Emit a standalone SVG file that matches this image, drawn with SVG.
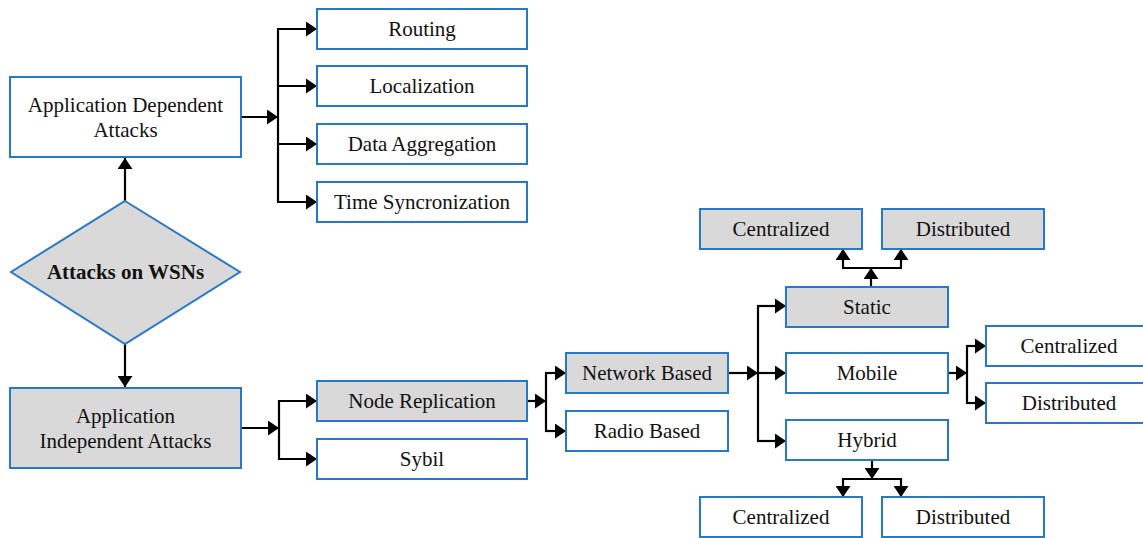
<svg xmlns="http://www.w3.org/2000/svg" width="1143" height="538" viewBox="0 0 1143 538">
<style>
.b{fill:#fff;stroke:#2878C8;stroke-width:2}
.g{fill:#D9D9D9;stroke:#2878C8;stroke-width:2}
text{font-family:"Liberation Serif","Times New Roman",serif;font-size:21px;fill:#111;text-anchor:middle}
.bold{font-weight:bold}
.c path{fill:none;stroke:#000;stroke-width:2.2}
.c path.a{marker-end:url(#ah)}
</style>
<defs>
<marker id="ah" markerUnits="userSpaceOnUse" markerWidth="11" markerHeight="15" refX="11" refY="7.5" orient="auto" viewBox="0 0 11 15">
<path d="M0,0 L11,7.5 L0,15 z" fill="#000"/>
</marker>
</defs>
<rect width="1143" height="538" fill="#fff"/>
<g class="c" id="connectors">
<path class="a" d="M241,117 H278"/>
<path d="M278,28 V203"/>
<path class="a" d="M277,29 H317"/>
<path class="a" d="M277,86 H317"/>
<path class="a" d="M277,144 H317"/>
<path class="a" d="M277,202 H317"/>
<path class="a" d="M125,201 V158"/>
<path class="a" d="M125,344 V387"/>
<path class="a" d="M241,428 H279"/>
<path d="M279,400 V460"/>
<path class="a" d="M278,401 H317"/>
<path class="a" d="M278,459 H317"/>
<path class="a" d="M527,401 H546"/>
<path d="M546,372 V432"/>
<path class="a" d="M545,373 H566"/>
<path class="a" d="M545,431 H566"/>
<path class="a" d="M728,373 H758"/>
<path class="a" d="M758,373 H786"/>
<path d="M758,305 V442"/>
<path class="a" d="M757,306 H786"/>
<path class="a" d="M757,441 H786"/>
<path class="a" d="M871,287 V268"/>
<path d="M842,268 H902"/>
<path class="a" d="M843,267 V249"/>
<path class="a" d="M901,267 V249"/>
<path class="a" d="M948,373 H967"/>
<path d="M967,345 V404"/>
<path class="a" d="M966,346 H986"/>
<path class="a" d="M966,403 H986"/>
<path class="a" d="M872,460 V479"/>
<path d="M842,479 H902"/>
<path class="a" d="M843,478 V497"/>
<path class="a" d="M901,478 V497"/>
</g>
<g id="appdep"><rect class="b" x="10" y="77" width="231" height="80"/><text x="125.5" y="112">Application Dependent</text><text x="125.5" y="137">Attacks</text></g>
<g id="routing"><rect class="b" x="317" y="9" width="210" height="40"/><text x="422" y="36">Routing</text></g>
<g id="localization"><rect class="b" x="317" y="66" width="210" height="40"/><text x="422" y="93">Localization</text></g>
<g id="dataagg"><rect class="b" x="317" y="124" width="210" height="40"/><text x="422" y="151">Data Aggregation</text></g>
<g id="timesync"><rect class="b" x="317" y="182" width="210" height="40"/><text x="422" y="209">Time Syncronization</text></g>
<g id="root"><polygon class="g" points="125,201 240,272 125,344 11,272"/><text class="bold" x="125.5" y="279">Attacks on WSNs</text></g>
<g id="appindep"><rect class="g" x="10" y="388" width="231" height="80"/><text x="125.5" y="423">Application</text><text x="125.5" y="448">Independent Attacks</text></g>
<g id="noderep"><rect class="g" x="317" y="381" width="210" height="40"/><text x="422" y="408">Node Replication</text></g>
<g id="sybil"><rect class="b" x="317" y="439" width="210" height="40"/><text x="422" y="466">Sybil</text></g>
<g id="network"><rect class="g" x="566" y="353" width="162" height="40"/><text x="647" y="380">Network Based</text></g>
<g id="radio"><rect class="b" x="566" y="411" width="162" height="40"/><text x="647" y="438">Radio Based</text></g>
<g id="static"><rect class="g" x="786" y="287" width="162" height="40"/><text x="867" y="314">Static</text></g>
<g id="mobile"><rect class="b" x="786" y="353" width="162" height="40"/><text x="867" y="380">Mobile</text></g>
<g id="hybrid"><rect class="b" x="786" y="420" width="162" height="40"/><text x="867" y="447">Hybrid</text></g>
<g id="s-central"><rect class="g" x="700" y="209" width="162" height="40"/><text x="781" y="236">Centralized</text></g>
<g id="s-distrib"><rect class="g" x="882" y="209" width="162" height="40"/><text x="963" y="236">Distributed</text></g>
<g id="m-central"><rect class="b" x="986" y="326" width="162" height="40"/><text x="1069" y="353">Centralized</text></g>
<g id="m-distrib"><rect class="b" x="986" y="383" width="162" height="40"/><text x="1069" y="410">Distributed</text></g>
<g id="h-central"><rect class="b" x="700" y="497" width="162" height="40"/><text x="781" y="524">Centralized</text></g>
<g id="h-distrib"><rect class="b" x="882" y="497" width="162" height="40"/><text x="963" y="524">Distributed</text></g>
</svg>
